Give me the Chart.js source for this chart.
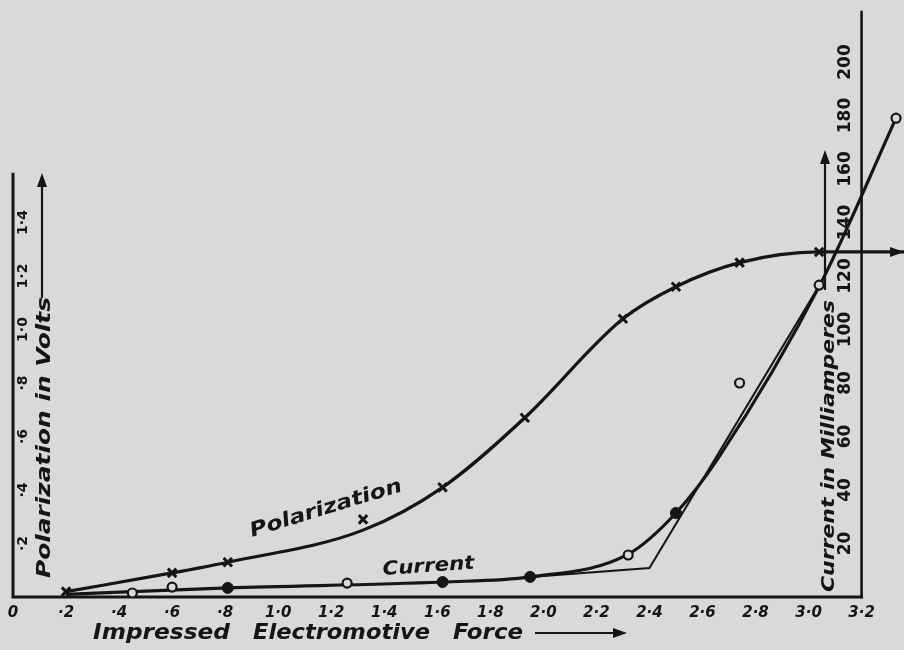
<!DOCTYPE html>
<html><head><meta charset="utf-8">
<script src="https://cdn.jsdelivr.net/npm/chart.js@4.4.1/dist/chart.umd.min.js"></script>
<style>html,body{margin:0;padding:0;background:#d9d9d9;}canvas{display:block;}</style>
</head><body>
<canvas id="c" width="904" height="650"></canvas>
<script>
// ---- tick labels ----
const xTickValues = [0,0.2,0.4,0.6,0.8,1.0,1.2,1.4,1.6,1.8,2.0,2.2,2.4,2.6,2.8,3.0,3.2];
const xTickLabels = ['0','·2','·4','·6','·8','1·0','1·2','1·4','1·6','1·8','2·0','2·2','2·4','2·6','2·8','3·0','3·2'];
const voltTickValues = [0.2,0.4,0.6,0.8,1.0,1.2,1.4];
const voltTickLabels = ['·2','·4','·6','·8','1·0','1·2','1·4'];
const currentTickValues = [20,40,60,80,100,120,140,160,180,200];
const currentTickLabels = ['20','40','60','80','100','120','140','160','180','200'];

// ---- polarization (volts) ----
const polMarkEmf   = [0.2, 0.6, 0.81, 1.32, 1.62, 1.93, 2.30, 2.50, 2.74, 3.04];
const polMarkVolts = [0.02,0.09,0.13, 0.29, 0.41, 0.67, 1.04, 1.16, 1.25, 1.29];
const polCurveEmf   = [0.2, 0.6, 0.81, 1.32, 1.62, 1.93, 2.30, 2.50, 2.74, 3.04, 3.36];
const polCurveVolts = [0.02,0.09,0.13, 0.25, 0.41, 0.67, 1.04, 1.16, 1.25, 1.29, 1.29];

// ---- current (milliamperes) ----
const curFilledEmf = [0.81, 1.62, 1.95, 2.50];
const curFilledMA  = [3.4,  5.6,  7.5,  31.4];
const curOpenEmf   = [0.45, 0.60, 1.26, 2.32, 2.74, 3.04, 3.33];
const curOpenMA    = [1.5,  3.7,  5.2,  15.7, 80,   116.6, 179];
const curCurveEmf  = [0.2, 0.81, 1.62, 1.95, 2.32, 2.50, 2.66, 3.05, 3.33];
const curCurveMA   = [1.0, 3.4,  5.6,  7.5,  16,   31.4, 52,   118,  179];
const curStraightEmf = [1.95, 2.40, 3.05];
const curStraightMA  = [7.5,  10.8, 118];

const BG = '#d9d9d9', INK = '#151515';
const FONT = '"DejaVu Sans", sans-serif';
const pts = (xs, ys) => xs.map((x, i) => ({x, y: ys[i]}));

function drawFit(ctx, text, x, y, angle, len, size) {
  ctx.save();
  ctx.translate(x, y);
  ctx.rotate(angle);
  ctx.font = 'italic bold ' + size + 'px ' + FONT;
  ctx.textAlign = 'left';
  ctx.textBaseline = 'alphabetic';
  const w = ctx.measureText(text).width;
  ctx.scale(len / w, 1);
  ctx.fillStyle = INK;
  ctx.fillText(text, 0, 0);
  ctx.restore();
}
function arrowHead(ctx, x, y, dir) {
  ctx.beginPath();
  if (dir === 'up') { ctx.moveTo(x, y); ctx.lineTo(x - 5, y + 14); ctx.lineTo(x + 5, y + 14); }
  else { ctx.moveTo(x, y); ctx.lineTo(x - 14, y - 5); ctx.lineTo(x - 14, y + 5); }
  ctx.closePath(); ctx.fill();
}

const decor = {
  id: 'decor',
  beforeDraw(chart) {
    const ctx = chart.ctx;
    ctx.save(); ctx.fillStyle = BG; ctx.fillRect(0, 0, chart.width, chart.height); ctx.restore();
  },
  beforeDatasetsDraw(chart) {
    const {ctx, scales} = chart;
    const xs = scales.x, yc = scales.y, yv = scales.yV;
    const x0 = xs.getPixelForValue(0), x32 = xs.getPixelForValue(3.2);
    const yb = yc.getPixelForValue(0);
    ctx.save();
    ctx.strokeStyle = INK; ctx.lineCap = 'square';
    ctx.lineWidth = 3;
    ctx.beginPath();
    ctx.moveTo(x0, yv.getPixelForValue(1.58)); ctx.lineTo(x0, yb); ctx.lineTo(x32, yb);
    ctx.stroke();
    ctx.lineWidth = 2.6;
    ctx.beginPath(); ctx.moveTo(x32, chart.chartArea.top); ctx.lineTo(x32, yb); ctx.stroke();
    ctx.restore();
  },
  afterDatasetsDraw(chart) {
    const {ctx, scales, chartArea} = chart;
    const xs = scales.x, yc = scales.y, yv = scales.yV;
    ctx.save();
    ctx.fillStyle = INK; ctx.strokeStyle = INK;
    arrowHead(ctx, chartArea.right, yv.getPixelForValue(polCurveVolts[polCurveVolts.length - 1]), 'right');
    ctx.textAlign = 'center'; ctx.textBaseline = 'middle';
    voltTickValues.forEach((v, i) => {
      ctx.save(); ctx.translate(23, yv.getPixelForValue(v)); ctx.rotate(-Math.PI / 2);
      ctx.font = 'bold 14px ' + FONT; ctx.fillText(voltTickLabels[i], 0, 0); ctx.restore();
    });
    currentTickValues.forEach((v, i) => {
      ctx.save(); ctx.translate(846, yc.getPixelForValue(v)); ctx.rotate(-Math.PI / 2);
      ctx.font = 'bold 17px ' + FONT; ctx.fillText(currentTickLabels[i], 0, 0); ctx.restore();
    });
    drawFit(ctx, 'Polarization in Volts', 50, 578, -Math.PI / 2, 281, 19);
    ctx.lineWidth = 2.2;
    ctx.beginPath(); ctx.moveTo(42, 298); ctx.lineTo(42, 185); ctx.stroke();
    arrowHead(ctx, 42, 173, 'up');
    drawFit(ctx, 'Current in Milliamperes', 834, 592, -Math.PI / 2, 292, 18);
    ctx.beginPath(); ctx.moveTo(825, 290); ctx.lineTo(825, 162); ctx.stroke();
    arrowHead(ctx, 825, 150, 'up');
    drawFit(ctx, 'Impressed', 93, 639, 0, 137, 21);
    drawFit(ctx, 'Electromotive', 253, 639, 0, 177, 21);
    drawFit(ctx, 'Force', 453, 639, 0, 70, 21);
    ctx.lineWidth = 2;
    ctx.beginPath(); ctx.moveTo(535, 633); ctx.lineTo(615, 633); ctx.stroke();
    arrowHead(ctx, 627, 633, 'right');
    drawFit(ctx, 'Polarization', 252, 537, -17 * Math.PI / 180, 158, 20);
    drawFit(ctx, 'Current', 383, 575, -4 * Math.PI / 180, 92, 19);
    ctx.restore();
  }
};

new Chart(document.getElementById('c'), {
  type: 'scatter',
  data: {
    datasets: [
      { label: 'Polarization readings', data: pts(polMarkEmf, polMarkVolts), yAxisID: 'yV',
        pointStyle: 'crossRot', pointRadius: 6, borderColor: INK, borderWidth: 3, showLine: false },
      { label: 'Current readings', data: pts(curFilledEmf, curFilledMA), yAxisID: 'y',
        pointStyle: 'circle', pointRadius: 5.5, backgroundColor: INK, borderColor: INK, borderWidth: 1, showLine: false },
      { label: 'Current readings (open)', data: pts(curOpenEmf, curOpenMA), yAxisID: 'y',
        pointStyle: 'circle', pointRadius: 4.5, backgroundColor: BG, borderColor: INK, borderWidth: 2.2, showLine: false },
      { label: 'Polarization', data: pts(polCurveEmf, polCurveVolts), yAxisID: 'yV',
        showLine: true, pointRadius: 0, borderColor: INK, borderWidth: 3.2, cubicInterpolationMode: 'monotone', clip: false },
      { label: 'Current', data: pts(curCurveEmf, curCurveMA), yAxisID: 'y',
        showLine: true, pointRadius: 0, borderColor: INK, borderWidth: 3.2, cubicInterpolationMode: 'monotone', clip: false },
      { label: 'Current (straight)', data: pts(curStraightEmf, curStraightMA), yAxisID: 'y',
        showLine: true, pointRadius: 0, borderColor: INK, borderWidth: 2, tension: 0, clip: false }
    ]
  },
  options: {
    responsive: false, animation: false, devicePixelRatio: 1,
    layout: { autoPadding: false, padding: { left: 13, right: 0, top: 12, bottom: 21 } },
    plugins: { legend: { display: false }, tooltip: { enabled: false }, title: { display: false } },
    scales: {
      x: { type: 'linear', min: 0, max: 3.36,
        grid: { display: false, drawTicks: false }, border: { display: false },
        afterBuildTicks: (s) => { s.ticks = xTickValues.map(v => ({value: v})); },
        afterFit: (s) => { s.paddingLeft = 0; s.paddingRight = 0; },
        ticks: { autoSkip: false, maxRotation: 0, minRotation: 0, padding: 7, color: INK,
          font: { family: FONT, size: 15, weight: 'bold', style: 'italic' },
          callback: (v) => { const i = xTickValues.findIndex(t => Math.abs(t - v) < 1e-6); return i >= 0 ? xTickLabels[i] : ''; } } },
      y: { type: 'linear', min: 0, max: 218.7, display: false },
      yV: { type: 'linear', min: 0, max: 2.187, display: false }
    }
  },
  plugins: [decor]
});
</script>
</body></html>
